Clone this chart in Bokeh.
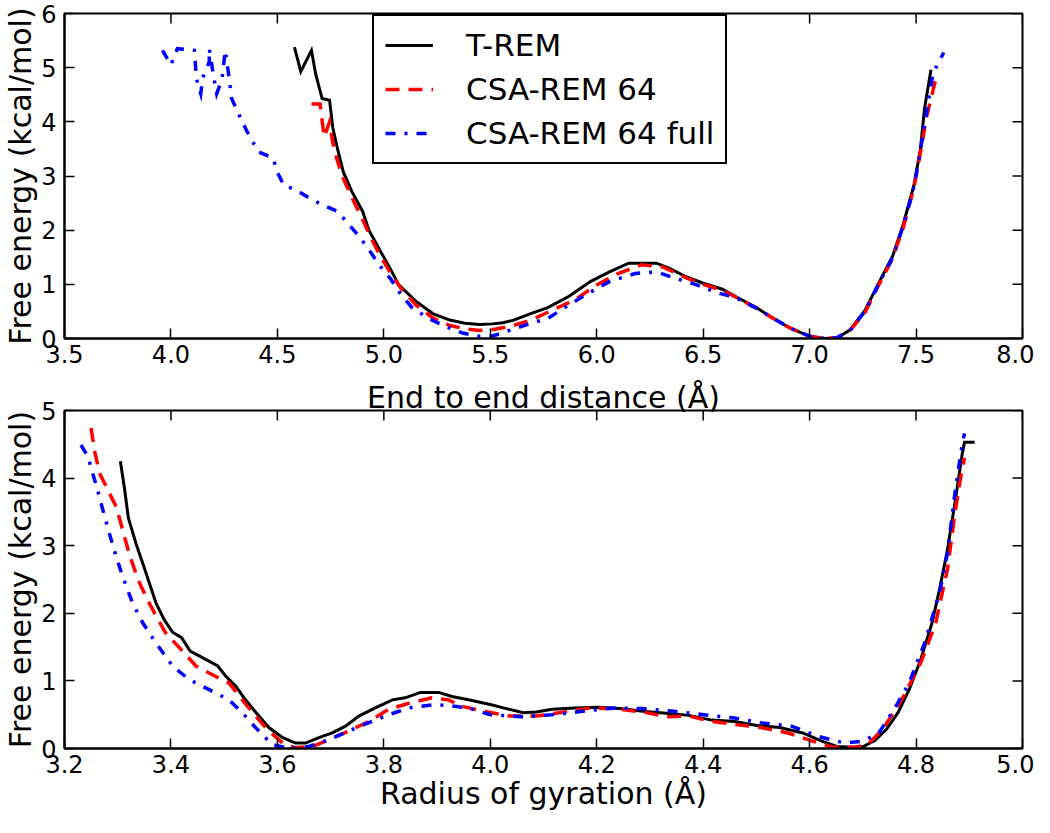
import math
from bokeh.plotting import figure
from bokeh.models import Range1d, FixedTicker, LinearAxis, PrintfTickFormatter
from bokeh.layouts import column
from bokeh.embed import file_html
from bokeh.resources import INLINE

# ---------------- data: end-to-end distance ----------------
e2e_trem_x = [4.58, 4.61, 4.66, 4.68, 4.71, 4.745, 4.76, 4.78, 4.81, 4.85, 4.90, 4.93, 4.98, 5.03,
              5.07, 5.15, 5.23, 5.31, 5.38, 5.45, 5.51, 5.56, 5.61, 5.69, 5.77, 5.87, 5.97, 6.06,
              6.15, 6.21, 6.28, 6.34, 6.42, 6.50, 6.59, 6.65, 6.75, 6.83, 6.91, 7.00, 7.07, 7.13,
              7.19, 7.26, 7.32, 7.39, 7.44, 7.49, 7.52, 7.54, 7.57]
e2e_trem_y = [5.38, 4.93, 5.32, 4.88, 4.43, 4.40, 3.90, 3.54, 3.07, 2.71, 2.35, 2.00, 1.64, 1.29,
              0.99, 0.69, 0.46, 0.34, 0.28, 0.26, 0.27, 0.29, 0.34, 0.46, 0.57, 0.78, 1.05, 1.23,
              1.39, 1.39, 1.39, 1.30, 1.14, 1.02, 0.91, 0.78, 0.57, 0.37, 0.19, 0.04, 0.00, 0.01,
              0.16, 0.52, 0.99, 1.52, 2.11, 2.83, 3.48, 4.25, 4.96]

e2e_csa_x = [4.66, 4.70, 4.72, 4.745, 4.76, 4.78, 4.81, 4.85, 4.90, 4.94, 4.98, 5.03, 5.08, 5.15,
             5.23, 5.31, 5.38, 5.45, 5.52, 5.60, 5.69, 5.79, 5.90, 6.00, 6.10, 6.21, 6.31, 6.42,
             6.50, 6.59, 6.65, 6.75, 6.83, 6.91, 7.00, 7.07, 7.13, 7.19, 7.26, 7.32, 7.39, 7.44,
             7.49, 7.52, 7.55, 7.59]
e2e_csa_y = [4.33, 4.33, 3.72, 4.00, 3.62, 3.30, 2.95, 2.60, 2.20, 1.85, 1.55, 1.22, 0.93, 0.62,
             0.38, 0.24, 0.18, 0.15, 0.17, 0.23, 0.34, 0.52, 0.72, 0.99, 1.20, 1.36, 1.32, 1.12,
             1.00, 0.89, 0.77, 0.56, 0.37, 0.19, 0.04, 0.00, 0.02, 0.15, 0.48, 0.95, 1.48, 2.05,
             2.78, 3.42, 4.10, 4.75]

e2e_full_x = [3.96, 4.00, 4.03, 4.11, 4.12, 4.14, 4.15, 4.18, 4.18, 4.20, 4.215, 4.24, 4.255, 4.27,
              4.285, 4.32, 4.355, 4.41, 4.48, 4.50, 4.53, 4.59, 4.65, 4.71, 4.78, 4.82, 4.885,
              4.93, 4.98, 5.03, 5.07, 5.13, 5.21, 5.29, 5.37, 5.45, 5.50, 5.53, 5.60, 5.69, 5.77,
              5.85, 5.95, 6.06, 6.18, 6.28, 6.37, 6.47, 6.57, 6.65, 6.75, 6.83, 6.91, 7.00, 7.07,
              7.13, 7.19, 7.26, 7.32, 7.39, 7.44, 7.49, 7.52, 7.55, 7.58, 7.63]
e2e_full_y = [5.32, 5.05, 5.35, 5.32, 4.79, 4.52, 4.82, 5.11, 5.35, 4.85, 4.52, 4.79, 5.32, 4.90,
              4.43, 4.13, 3.84, 3.45, 3.33, 3.07, 2.83, 2.74, 2.59, 2.47, 2.35, 2.18, 1.88,
              1.64, 1.35, 1.11, 0.87, 0.58, 0.37, 0.22, 0.10, 0.04, 0.04, 0.07, 0.16, 0.28, 0.37,
              0.57, 0.81, 1.05, 1.20, 1.23, 1.11, 0.99, 0.84, 0.76, 0.56, 0.37, 0.19, 0.04, 0.00,
              0.02, 0.15, 0.50, 0.97, 1.50, 2.08, 2.80, 3.45, 4.20, 4.90, 5.28]

# ---------------- data: radius of gyration ----------------
rg_trem_x = [3.305, 3.313, 3.32, 3.334, 3.353, 3.372, 3.387, 3.403, 3.42, 3.436, 3.46, 3.488, 3.503,
             3.522, 3.54, 3.56, 3.584, 3.61, 3.634, 3.653, 3.678, 3.703, 3.728, 3.753, 3.784,
             3.816, 3.84, 3.869, 3.903, 3.928, 3.959, 4.0, 4.03, 4.062, 4.087, 4.116, 4.159,
             4.201, 4.244, 4.287, 4.33, 4.373, 4.416, 4.459, 4.501, 4.544, 4.587, 4.623, 4.651,
             4.68, 4.701, 4.723, 4.744, 4.766, 4.787, 4.809, 4.83, 4.844, 4.859, 4.873, 4.887,
             4.891, 4.91]
rg_trem_y = [4.25, 3.83, 3.41, 3.04, 2.60, 2.15, 1.91, 1.72, 1.64, 1.44, 1.34, 1.22, 1.07,
             0.92, 0.72, 0.53, 0.31, 0.16, 0.08, 0.08, 0.16, 0.23, 0.33, 0.48, 0.60,
             0.72, 0.75, 0.83, 0.83, 0.77, 0.72, 0.65, 0.59, 0.53, 0.54, 0.58, 0.60,
             0.61, 0.59, 0.55, 0.52, 0.49, 0.42, 0.40, 0.34, 0.31, 0.23, 0.11, 0.03,
             0.02, 0.03, 0.12, 0.28, 0.53, 0.87, 1.32, 1.86, 2.35, 2.94, 3.63, 4.37,
             4.53, 4.53]

rg_csa_x = [3.25, 3.256, 3.266, 3.281, 3.297, 3.309, 3.322, 3.338, 3.356, 3.372, 3.39, 3.416,
            3.447, 3.478, 3.509, 3.534, 3.559, 3.584, 3.61, 3.634, 3.666, 3.697, 3.734, 3.772,
            3.809, 3.847, 3.89, 3.922, 3.944, 3.987, 4.037, 4.087, 4.13, 4.187, 4.23, 4.287,
            4.33, 4.373, 4.416, 4.466, 4.509, 4.559, 4.601, 4.644, 4.687, 4.709, 4.737, 4.773,
            4.809, 4.837, 4.859, 4.873, 4.884, 4.891]
rg_csa_y = [4.74, 4.42, 4.07, 3.83, 3.58, 3.24, 2.87, 2.50, 2.20, 1.96, 1.71, 1.49,
            1.22, 1.09, 0.97, 0.72, 0.48, 0.26, 0.08, 0.01, 0.03, 0.13, 0.26, 0.40,
            0.58, 0.67, 0.75, 0.72, 0.63, 0.55, 0.48, 0.48, 0.53, 0.60, 0.59, 0.54,
            0.47, 0.48, 0.40, 0.35, 0.31, 0.23, 0.12, 0.02, 0.02, 0.06, 0.28, 0.72,
            1.27, 1.86, 2.65, 3.48, 4.02, 4.30]

rg_full_x = [3.231, 3.244, 3.253, 3.262, 3.272, 3.284, 3.297, 3.309, 3.328, 3.347, 3.372, 3.403,
             3.434, 3.472, 3.509, 3.534, 3.559, 3.59, 3.622, 3.659, 3.697, 3.734, 3.778, 3.809,
             3.847, 3.897, 3.928, 3.959, 4.0, 4.059, 4.116, 4.173, 4.23, 4.287, 4.344, 4.401,
             4.459, 4.509, 4.566, 4.616, 4.666, 4.701, 4.73, 4.759, 4.787, 4.816, 4.844, 4.859,
             4.873, 4.887, 4.891]
rg_full_y = [4.49, 4.32, 4.07, 3.83, 3.53, 3.19, 2.84, 2.55, 2.15, 1.86, 1.56, 1.22,
             1.02, 0.87, 0.72, 0.53, 0.31, 0.06, 0.00, 0.03, 0.13, 0.26, 0.40, 0.50,
             0.60, 0.65, 0.63, 0.60, 0.50, 0.47, 0.50, 0.55, 0.60, 0.59, 0.55, 0.50,
             0.45, 0.38, 0.33, 0.18, 0.08, 0.11, 0.23, 0.58, 0.97, 1.56, 2.30, 2.89,
             3.78, 4.52, 4.66]

series_names = ["T-REM", "CSA-REM 64", "CSA-REM 64 full"]

top_xticks = [3.5, 4.0, 4.5, 5.0, 5.5, 6.0, 6.5, 7.0, 7.5, 8.0]
top_yticks = [0, 1, 2, 3, 4, 5, 6]
bot_xticks = [3.2, 3.4, 3.6, 3.8, 4.0, 4.2, 4.4, 4.6, 4.8, 5.0]
bot_yticks = [0, 1, 2, 3, 4, 5]

y_title = "Free energy (kcal/mol)"
top_x_title = "End to end distance (Å)"
bot_x_title = "Radius of gyration (Å)"

FONT = "DejaVu Sans"
TICK_SIZE = "24px"
LABEL_SIZE = "30px"
LEGEND_SIZE = "31px"
STYLES = [
    dict(color="#000000", line_width=3, line_dash="solid"),
    dict(color="#ff0000", line_width=3.5, line_dash="14 9"),
    dict(color="#0000ff", line_width=3.5, line_dash="10 9 3 9"),
]

# layout (pixels)
FIG_W = 1034
BORDER_L, BORDER_R = 59, 12
P1_TOP, P1_FRAME, P1_BOTTOM = 13, 325, 38
P2_TOP, P2_FRAME, P2_BOTTOM = 34, 338, 69


def style_axis(ax):
    ax.axis_line_width = 2
    ax.axis_line_color = "black"
    ax.major_tick_in = 10
    ax.major_tick_out = 0
    ax.major_tick_line_width = 1.5
    ax.major_tick_line_color = "black"
    ax.minor_tick_in = 0
    ax.minor_tick_out = 0
    ax.minor_tick_line_color = None
    ax.major_label_text_font = FONT
    ax.major_label_text_color = "black"
    ax.major_label_text_font_size = TICK_SIZE
    ax.major_label_standoff = 6
    ax.axis_label_text_font = FONT
    ax.axis_label_text_font_size = LABEL_SIZE
    ax.axis_label_text_font_style = "normal"
    ax.axis_label_text_color = "black"
    ax.axis_label_standoff = 0


def make_panel(xr, yr, xticks, yticks, top_b, frame_h, bottom_b,
               xlabel=None, above_label=None):
    p = figure(width=FIG_W, height=top_b + frame_h + bottom_b,
               x_range=Range1d(*xr), y_range=Range1d(*yr),
               output_backend="svg", toolbar_location=None,
               min_border_left=BORDER_L, min_border_right=BORDER_R,
               min_border_top=top_b, min_border_bottom=bottom_b)
    p.xgrid.visible = False
    p.ygrid.visible = False
    p.outline_line_color = "black"
    p.outline_line_width = 2
    p.outline_line_alpha = 1.0
    p.background_fill_color = "white"
    p.border_fill_color = "white"

    xa = p.xaxis[0]
    xa.ticker = FixedTicker(ticks=xticks)
    xa.formatter = PrintfTickFormatter(format="%.1f")
    style_axis(xa)
    if xlabel:
        xa.axis_label = xlabel
        xa.axis_label_standoff = 0

    ya = p.yaxis[0]
    ya.ticker = FixedTicker(ticks=yticks)
    ya.formatter = PrintfTickFormatter(format="%d")
    style_axis(ya)
    ya.major_label_standoff = 8
    ya.axis_label = y_title

    if above_label:
        top = LinearAxis(ticker=FixedTicker(ticks=[]))
        style_axis(top)
        top.axis_line_color = None
        top.axis_label = above_label
        top.axis_label_standoff = -4
        p.add_layout(top, "above")

    # inward ticks on the top and right edges (outer half is clipped by the frame)
    p.scatter(xticks, [yr[1]] * len(xticks), marker="dash", size=20, angle=math.pi / 2,
              line_color="black", line_width=1.5)
    p.scatter([xr[1]] * len(yticks), yticks, marker="dash", size=20,
              line_color="black", line_width=1.5)
    return p


p1 = make_panel((3.5, 8.0), (0, 6), top_xticks, top_yticks, P1_TOP, P1_FRAME, P1_BOTTOM)
p2 = make_panel((3.2, 5.0), (0, 5), bot_xticks, bot_yticks, P2_TOP, P2_FRAME, P2_BOTTOM,
                xlabel=bot_x_title, above_label=top_x_title)

top_data = [(e2e_trem_x, e2e_trem_y), (e2e_csa_x, e2e_csa_y), (e2e_full_x, e2e_full_y)]
bot_data = [(rg_trem_x, rg_trem_y), (rg_csa_x, rg_csa_y), (rg_full_x, rg_full_y)]

for (xs, ys), name, st in zip(top_data, series_names, STYLES):
    p1.line(xs, ys, legend_label=name, line_join="miter", **st)
for (xs, ys), st in zip(bot_data, STYLES):
    p2.line(xs, ys, line_join="miter", **st)

lg = p1.legend[0]
lg.location = (308, 174)
lg.label_text_font = FONT
lg.label_text_font_size = LEGEND_SIZE
lg.label_text_color = "black"
lg.glyph_width = 48
lg.glyph_height = 36
lg.label_height = 36
lg.label_standoff = 33
lg.spacing = 8
lg.padding = 11
lg.margin = 0
lg.border_line_color = "black"
lg.border_line_width = 2
lg.border_line_alpha = 1.0
lg.background_fill_color = "white"
lg.background_fill_alpha = 1.0

layout = column(p1, p2, spacing=0)
open("out.html", "w").write(file_html(layout, INLINE))
